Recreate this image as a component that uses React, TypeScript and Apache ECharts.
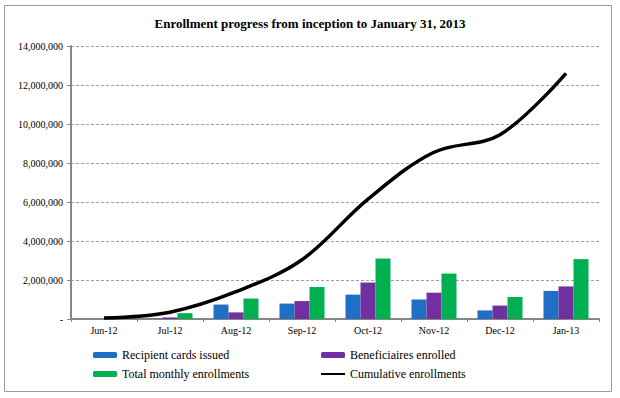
import React, { useEffect, useRef } from "react";
import * as echarts from "echarts";

const titleText = "Enrollment progress from inception to January 31, 2013";
const categories = ["Jun-12", "Jul-12", "Aug-12", "Sep-12", "Oct-12", "Nov-12", "Dec-12", "Jan-13"];
const recipientCards = [0, 20000, 740000, 790000, 1250000, 1000000, 440000, 1440000];
const beneficiaries = [0, 80000, 340000, 920000, 1870000, 1350000, 690000, 1670000];
const totalMonthly = [20000, 300000, 1050000, 1640000, 3100000, 2330000, 1130000, 3070000];
const cumulative = [50000, 350000, 1400000, 3040000, 6150000, 8550000, 9450000, 12600000];

const FONT = "'Liberation Serif'";

export default function App() {
  const ref = useRef<HTMLDivElement>(null);
  useEffect(() => {
    if (!ref.current) return;
    const chart = echarts.init(ref.current, undefined, { renderer: "svg" });
    const fmt = (v: number) => (v === 0 ? "-" : v.toLocaleString("en-US"));
    const legendText = { fontFamily: FONT, fontSize: 12, color: "#000" };
    chart.setOption({
      animation: false,
      backgroundColor: "#ffffff",
      textStyle: { fontFamily: FONT },
      title: {
        text: titleText,
        left: "center",
        top: 12,
        textStyle: { fontFamily: FONT, fontSize: 13, fontWeight: "bold", color: "#000" },
      },
      graphic: [
        {
          type: "rect",
          shape: { x: 4.5, y: 5.5, width: 607, height: 386 },
          style: { fill: "none", stroke: "#9a9a9a", lineWidth: 1 },
          silent: true,
        },
      ],
      legend: [
        {
          left: 93,
          top: 349,
          padding: 0,
          orient: "vertical",
          itemWidth: 24,
          itemHeight: 6,
          itemGap: 7,
          data: ["Recipient cards issued", "Total monthly enrollments"],
          textStyle: legendText,
        },
        {
          left: 320,
          top: 349,
          padding: 0,
          orient: "vertical",
          itemWidth: 24,
          itemHeight: 6,
          itemGap: 7,
          data: [
            "Beneficiaires enrolled",
            { name: "Cumulative enrollments", itemStyle: { color: "rgba(0,0,0,0)", borderWidth: 0 } },
          ],
          textStyle: legendText,
        },
      ],
      grid: { left: 71, right: 21, top: 46, bottom: 79, containLabel: false },
      xAxis: {
        type: "category",
        data: categories,
        axisLine: { lineStyle: { color: "#868686", width: 2 } },
        axisTick: { show: true, length: 3, lineStyle: { color: "#868686" } },
        axisLabel: { fontFamily: FONT, fontSize: 10, color: "#000", margin: 6 },
      },
      yAxis: {
        type: "value",
        min: 0,
        max: 14000000,
        interval: 2000000,
        axisLine: { show: true, lineStyle: { color: "#868686", width: 2 } },
        axisTick: { show: true, length: 4, lineStyle: { color: "#868686" } },
        axisLabel: { fontFamily: FONT, fontSize: 10, color: "#000", margin: 8, formatter: fmt },
        splitLine: { show: true, lineStyle: { color: "#a0a0a0", type: [3, 2], width: 1 } },
      },
      series: [
        {
          name: "Recipient cards issued",
          type: "bar",
          data: recipientCards,
          barWidth: 15,
          barGap: "0%",
          itemStyle: { color: "#1f6fc4" },
        },
        {
          name: "Beneficiaires enrolled",
          type: "bar",
          data: beneficiaries,
          barWidth: 15,
          barGap: "0%",
          itemStyle: { color: "#7030a0" },
        },
        {
          name: "Total monthly enrollments",
          type: "bar",
          data: totalMonthly,
          barWidth: 15,
          barGap: "0%",
          itemStyle: { color: "#00b050" },
        },
        {
          name: "Cumulative enrollments",
          type: "line",
          data: cumulative,
          smooth: 0.35,
          symbol: "none",
          lineStyle: { color: "#000", width: 3.5 },
          itemStyle: { color: "#000" },
        },
      ],
    });
    return () => chart.dispose();
  }, []);
  return (
    <div
      ref={ref}
      style={{ position: "fixed", left: 0, top: 0, width: 620, height: 398 }}
    />
  );
}
